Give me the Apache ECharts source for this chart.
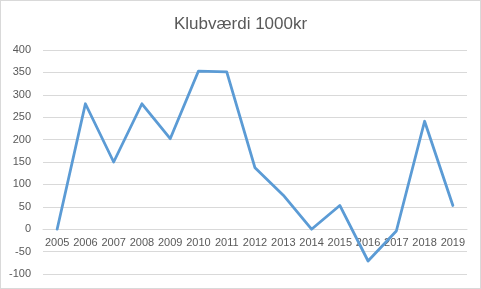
<!DOCTYPE html>
<html><head><meta charset="utf-8">
<script src="https://cdn.jsdelivr.net/npm/echarts@6/dist/echarts.min.js"></script>
<style>html,body{margin:0;padding:0;background:#fff}#c{width:481px;height:289px;box-sizing:border-box;border:1px solid #d9d9d9}</style>
</head><body><div id="c"></div>
<script>
const title = "Klubværdi 1000kr";
const years = ["2005","2006","2007","2008","2009","2010","2011","2012","2013","2014","2015","2016","2017","2018","2019"];
const values = [0, 280, 150, 280, 202, 353, 351, 137, 76, 0, 53, -71, -4, 241, 53];
const yMin = -100, yMax = 400, yStep = 50;

const W = 481, H = 289, gTop = 49, gBottom = 14;
const plotH = H - gTop - gBottom;
const zeroOffset = -((0 - yMin) / (yMax - yMin)) * plotH;

const chart = echarts.init(document.getElementById('c'), null, {renderer:'canvas'});
chart.setOption({
  animation:false,
  title:{text:title,left:'center',top:10,textStyle:{fontFamily:'Liberation Sans',fontSize:17,fontWeight:'normal',color:'#595959'}},
  grid:{left:42,right:13,top:gTop,bottom:gBottom,containLabel:false,outerBoundsMode:'none'},
  xAxis:{type:'category',data:years,boundaryGap:true,position:'bottom',offset:zeroOffset,
    axisLine:{onZero:false,lineStyle:{color:'#d9d9d9',width:1}},
    axisTick:{show:false},
    axisLabel:{color:'#595959',fontFamily:'Liberation Sans',fontSize:11,margin:9,interval:0}},
  yAxis:{type:'value',min:yMin,max:yMax,interval:yStep,
    axisLine:{show:false},axisTick:{show:false},
    splitLine:{lineStyle:{color:'#d9d9d9',width:1}},
    axisLabel:{color:'#595959',fontFamily:'Liberation Sans',fontSize:11,margin:12}},
  series:[{type:'line',data:values,symbol:'none',lineStyle:{color:'#5b9bd5',width:2.8,cap:'round',join:'round'}}]
});
</script></body></html>
